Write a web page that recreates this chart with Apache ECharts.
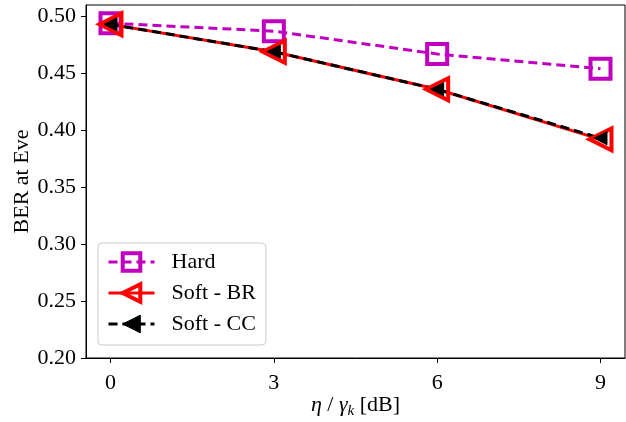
<!DOCTYPE html>
<html>
<head>
<meta charset="utf-8">
<script src="https://cdn.jsdelivr.net/npm/echarts@6/dist/echarts.min.js"></script>
<style>
  html, body { margin: 0; padding: 0; background: #fff; }
  #chart { width: 626px; height: 422px; }
</style>
</head>
<body>
<div id="chart"></div>
<script>
const xValues = [0, 3, 6, 9]
const xTicks = [0, 3, 6, 9]
const yTicks = [0.20, 0.25, 0.30, 0.35, 0.40, 0.45, 0.50]
const hard = [0.494, 0.487, 0.467, 0.454]
const softBR = [0.493, 0.469, 0.436, 0.392]
const softCC = [0.493, 0.469, 0.436, 0.393]

const font = 'Liberation Serif'
const pairs = ys => xValues.map((x, i) => [x, ys[i]])

const chart = echarts.init(document.getElementById('chart'))
chart.setOption({
  animation: false,
  textStyle: { fontFamily: font, color: '#000' },
  grid: {
    left: 86, right: 1, top: 5, bottom: 64,
    outerBoundsMode: 'none',
    containLabel: false,
    show: true, borderColor: '#000', borderWidth: 1
  },
  legend: {
    orient: 'vertical',
    left: 98,
    top: 243,
    padding: [8, 10, 10, 9],
    itemWidth: 46,
    itemHeight: 22,
    itemGap: 9,
    backgroundColor: 'rgba(255,255,255,0.8)',
    borderColor: '#ccc',
    borderWidth: 1,
    borderRadius: 4,
    textStyle: { fontFamily: font, fontSize: 22, color: '#000', padding: [0, 0, 0, 12] },
    data: [
      {
        name: 'Hard',
        lineStyle: { color: '#bf00bf', width: 3, type: [9, 5] },
        itemStyle: { color: 'rgba(0,0,0,0)', borderColor: '#bf00bf', borderWidth: 4 }
      },
      {
        name: 'Soft - BR',
        lineStyle: { color: '#ff0000', width: 3 },
        itemStyle: { color: 'rgba(0,0,0,0)', borderColor: '#ff0000', borderWidth: 4 }
      },
      {
        name: 'Soft - CC',
        lineStyle: { color: '#000', width: 3, type: [9, 5] },
        itemStyle: { color: '#000', borderColor: '#000', borderWidth: 1 }
      }
    ]
  },
  xAxis: {
    type: 'value',
    min: -0.45,
    max: 9.45,
    name: '{i|η} / {i|γ}{s|k} [dB]',
    nameLocation: 'middle',
    nameGap: 34,
    nameMoveOverlap: false,
    nameTextStyle: {
      fontFamily: font, fontSize: 22, color: '#000',
      rich: {
        i: { fontFamily: font, fontSize: 22, fontStyle: 'italic' },
        s: { fontFamily: font, fontSize: 15, fontStyle: 'italic', padding: [12, 0, 0, 0] }
      }
    },
    axisLine: { onZero: false, lineStyle: { color: '#000', width: 1 } },
    axisTick: { customValues: xTicks, length: 5, lineStyle: { color: '#000' } },
    axisLabel: { customValues: xTicks, fontSize: 22, color: '#000', margin: 14, fontFamily: font },
    splitLine: { show: false }
  },
  yAxis: {
    type: 'value',
    min: 0.2,
    max: 0.51,
    name: 'BER at Eve',
    nameLocation: 'middle',
    nameGap: 53,
    nameMoveOverlap: false,
    nameTextStyle: { fontFamily: font, fontSize: 22, color: '#000' },
    axisLine: { show: true, onZero: false, lineStyle: { color: '#000', width: 1 } },
    axisTick: { show: true, customValues: yTicks, length: 5, lineStyle: { color: '#000' } },
    axisLabel: {
      customValues: yTicks, fontSize: 22, color: '#000', margin: 10, fontFamily: font,
      formatter: v => v.toFixed(2)
    },
    splitLine: { show: false }
  },
  series: [
    {
      name: 'Hard',
      type: 'line',
      data: pairs(hard),
      symbol: 'rect',
      symbolSize: 20,
      lineStyle: { color: '#bf00bf', width: 3, type: [9, 5] },
      itemStyle: { color: 'rgba(0,0,0,0)', borderColor: '#bf00bf', borderWidth: 4 }
    },
    {
      name: 'Soft - BR',
      type: 'line',
      data: pairs(softBR),
      symbol: 'triangle',
      symbolSize: 22,
      symbolRotate: 90,
      lineStyle: { color: '#ff0000', width: 3 },
      itemStyle: { color: 'rgba(0,0,0,0)', borderColor: '#ff0000', borderWidth: 4 }
    },
    {
      name: 'Soft - CC',
      type: 'line',
      data: pairs(softCC),
      symbol: 'triangle',
      symbolSize: 13,
      symbolRotate: 90,
      lineStyle: { color: '#000', width: 3, type: [9, 5] },
      itemStyle: { color: '#000', borderColor: '#000', borderWidth: 1 }
    }
  ]
})
</script>
</body>
</html>
